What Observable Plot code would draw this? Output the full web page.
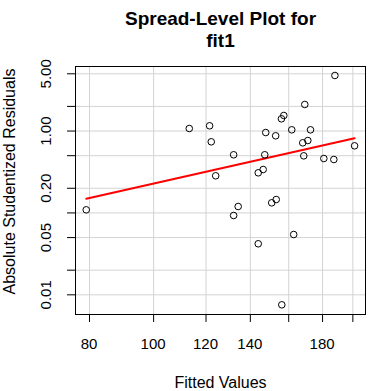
<!DOCTYPE html>
<html>
<head>
<meta charset="utf-8">
<script src="https://cdn.jsdelivr.net/npm/d3@7"></script>
<script src="https://cdn.jsdelivr.net/npm/@observablehq/plot@0.6"></script>
<style>
  html, body { margin: 0; padding: 0; background: #fff; }
  #chart { position: relative; width: 376px; height: 391px; }
  .xtick { position: absolute; transform: translateX(-50%); font: 15px 'Liberation Sans', Arial, Helvetica, sans-serif; line-height: 1; color: black; white-space: nowrap; }
</style>
</head>
<body>
<div id="chart"></div>
<script>
// Fitted values and absolute studentized residuals
const fitted = [113.2, 121.5, 122.2, 124.1, 187.9, 169.2, 157.3, 156.0, 147.7, 152.9,
                161.7, 172.6, 168.0, 171.0, 201.2, 132.1, 147.2, 168.6, 180.8, 187.2,
                146.4, 143.9, 79.1, 134.2, 132.1, 153.2, 150.8, 162.8, 143.9, 156.2];
const absResid = [1.074, 1.159, 0.739, 0.284, 4.77, 2.11, 1.549, 1.411, 0.959, 0.875,
                  1.035, 1.035, 0.718, 0.766, 0.660, 0.513, 0.513, 0.498, 0.462, 0.449,
                  0.339, 0.309, 0.1091, 0.1198, 0.0930, 0.1458, 0.1329, 0.0545, 0.0420, 0.00755];
// Fitted spread-level line endpoints
const lineX = [79.1, 201.2];
const lineY = [0.1488, 0.818];
// Axis ticks
const xTicks = [80, 100, 120, 140, 160, 180, 200];
const xTickLabels = ["80", "100", "120", "140", "", "180", ""];
const yTicks = [0.01, 0.02, 0.05, 0.1, 0.2, 0.5, 1, 2, 5];
const yTickLabels = ["0.01", "", "0.05", "", "0.20", "", "1.00", "", "5.00"];
const titleLines = ["Spread-Level Plot for", "fit1"];
const xLabel = "Fitted Values";
const yLabel = "Absolute Studentized Residuals";

const points = fitted.map((f, i) => ({f, r: absResid[i]}));
const lineData = lineX.map((x, i) => ({x, y: lineY[i]}));
const xLabeled = xTicks.map((t, i) => ({t, s: xTickLabels[i]})).filter(d => d.s !== "");
const yLabeled = yTicks.map((t, i) => ({t, s: yTickLabels[i]})).filter(d => d.s !== "");

const font = "'Liberation Sans', Arial, Helvetica, sans-serif";

const chart = Plot.plot({
  width: 376,
  height: 391,
  marginLeft: 75,
  marginRight: 11,
  marginTop: 66,
  marginBottom: 77,
  style: {fontFamily: font, fontSize: "15px", color: "black", background: "white"},
  x: {type: "log", domain: [76.2, 209]},
  y: {type: "log", domain: [0.00575, 6.14]},
  marks: [
    Plot.gridX(xTicks, {stroke: "#d3d3d3", strokeOpacity: 1, strokeWidth: 1}),
    Plot.gridY(yTicks, {stroke: "#d3d3d3", strokeOpacity: 1, strokeWidth: 1}),
    Plot.axisX(xTicks, {tickSize: 8, text: null, stroke: "black"}),
    Plot.axisY(yTicks, {tickSize: 8, text: null, stroke: "black"}),
    Plot.frame({stroke: "black", strokeWidth: 1}),
    Plot.line(lineData, {x: "x", y: "y", stroke: "#ff0000", strokeWidth: 2}),
    Plot.dot(points, {x: "f", y: "r", r: 3.3, stroke: "black", fill: "none", strokeWidth: 1}),
    Plot.text([yLabel], {frameAnchor: "left", rotate: -90, dx: -65.5, dy: -9,
      lineAnchor: "middle", textAnchor: "middle", fontSize: 16, fill: "black"}),
    Plot.text([xLabel], {frameAnchor: "bottom", dy: 73, lineAnchor: "bottom",
      textAnchor: "middle", fontSize: 16, fill: "black"}),
    Plot.text([titleLines[0]], {frameAnchor: "top", dy: -42, lineAnchor: "bottom",
      textAnchor: "middle", fontSize: 19, fontWeight: "bold", fill: "black"}),
    Plot.text([titleLines[1]], {frameAnchor: "top", dy: -19.3, lineAnchor: "bottom",
      textAnchor: "middle", fontSize: 19, fontWeight: "bold", fill: "black"}),
    Plot.text(yLabeled, {y: "t", text: "s", frameAnchor: "left", rotate: -90, dx: -29,
      lineAnchor: "middle", textAnchor: "middle", fontSize: 15, fill: "black"})
  ]
});
const host = document.getElementById("chart");
host.appendChild(chart);
// x tick labels placed with the chart's own x scale
const xs = chart.scale("x");
for (const d of xLabeled) {
  const el = document.createElement("div");
  el.className = "xtick";
  el.textContent = d.s;
  el.style.left = xs.apply(d.t) + "px";
  el.style.top = "336.3px";
  host.appendChild(el);
}
</script>
</body>
</html>
